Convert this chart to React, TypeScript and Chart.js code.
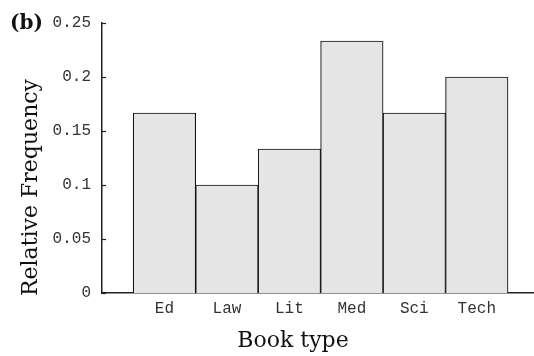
import React, { useEffect, useRef } from "react";
import { Chart, registerables } from "chart.js";

Chart.register(...registerables);

// Book types on the horizontal axis
const categories = ["Ed", "Law", "Lit", "Med", "Sci", "Tech"];
// Relative frequency of each book type (counts out of 30)
const frequencies = [5 / 30, 3 / 30, 4 / 30, 7 / 30, 5 / 30, 6 / 30];
// Vertical axis tick values
const yTicks = [0, 0.05, 0.1, 0.15, 0.2, 0.25];

const panelLabel = "(b)";
const xTitle = "Book type";
const yTitle = "Relative Frequency";

const serif = "'DejaVu Serif', serif";
const mono = "'Liberation Mono', 'DejaVu Sans Mono', monospace";

// Short tick marks pointing into the plot from the y axis, plus panel and axis titles
const decorations = {
  id: "decorations",
  afterDraw(chart: any) {
    const { ctx, chartArea, scales } = chart;
    const y = scales.y;
    ctx.save();
    ctx.strokeStyle = "#222";
    ctx.lineWidth = 1.2;
    for (const t of y.ticks) {
      const py = Math.round(y.getPixelForValue(t.value)) + 0.5;
      ctx.beginPath();
      ctx.moveTo(chartArea.left, py);
      ctx.lineTo(chartArea.left + 4, py);
      ctx.stroke();
    }

    ctx.fillStyle = "#111";
    ctx.font = `bold 20px ${serif}`;
    ctx.textAlign = "left";
    ctx.textBaseline = "alphabetic";
    ctx.fillText(panelLabel, 10, 29);

    ctx.font = `22px ${serif}`;
    ctx.textAlign = "center";
    ctx.fillText(xTitle, chartArea.left + 191, 347);

    ctx.translate(37, chartArea.bottom + 3);
    ctx.rotate(-Math.PI / 2);
    ctx.textAlign = "left";
    ctx.fillText(yTitle, 0, 0);
    ctx.restore();
  },
};

export default function App() {
  const canvasRef = useRef<HTMLCanvasElement | null>(null);

  useEffect(() => {
    const canvas = canvasRef.current;
    if (!canvas) return;
    const chart = new Chart(canvas, {
      type: "bar",
      data: {
        datasets: [
          {
            data: frequencies.map((v, i) => ({ x: i + 1, y: v })),
            backgroundColor: "#e5e5e5",
            borderColor: "#111",
            borderWidth: 1.1,
            barPercentage: 1,
            categoryPercentage: 1,
          },
        ],
      },
      options: {
        responsive: false,
        animation: false,
        layout: { padding: { top: 23, right: 1, left: 0, bottom: 0 } },
        plugins: {
          legend: { display: false },
          tooltip: { enabled: false },
        },
        scales: {
          x: {
            type: "linear",
            min: 0,
            max: 6.9,
            offset: false,
            afterFit(scale: any) {
              scale.height = 63;
            },
            afterBuildTicks(scale: any) {
              scale.ticks = categories.map((_, i) => ({ value: i + 1 }));
            },
            grid: { display: false, drawTicks: false },
            border: { display: true, color: "#222", width: 1.5 },
            ticks: {
              autoSkip: false,
              maxRotation: 0,
              padding: 6,
              color: "#333",
              font: { family: mono, size: 16 },
              callback: (v: any) => categories[Number(v) - 1] ?? "",
            },
          },
          y: {
            min: 0,
            max: 0.25,
            afterFit(scale: any) {
              scale.width = 102;
            },
            afterBuildTicks(scale: any) {
              scale.ticks = yTicks.map((v) => ({ value: v }));
            },
            grid: { display: false, drawTicks: false },
            border: { display: true, color: "#222", width: 1.5 },
            ticks: {
              padding: 11,
              color: "#333",
              font: { family: mono, size: 16 },
              callback: (v: any) => String(Number(Number(v).toFixed(2))),
            },
          },
        },
      },
      plugins: [decorations],
    });
    return () => chart.destroy();
  }, []);

  return (
    <div style={{ position: "absolute", left: 0, top: 0, width: 534, height: 356, background: "#fff" }}>
      <canvas ref={canvasRef} width={534} height={356} style={{ display: "block" }} />
    </div>
  );
}
